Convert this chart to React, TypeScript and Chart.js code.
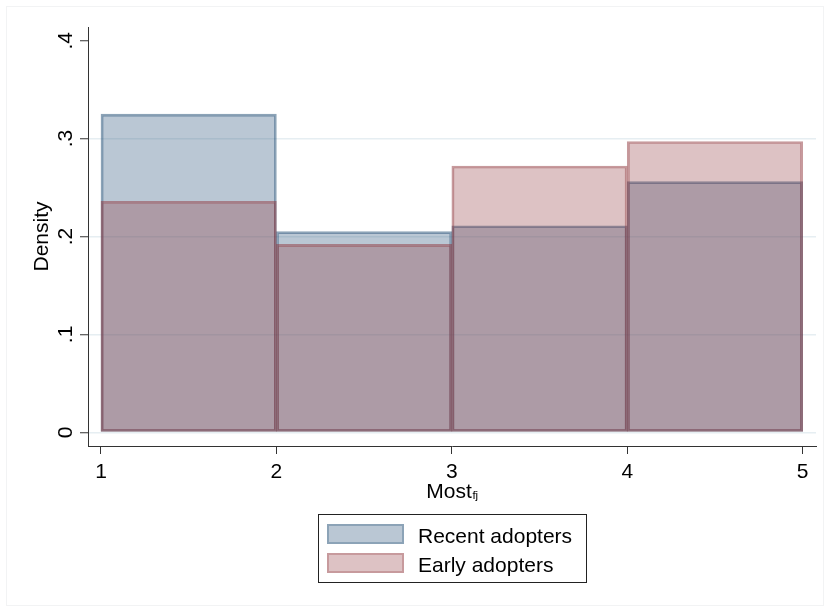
import React, { useEffect, useRef } from 'react';
import { Chart, registerables } from 'chart.js';

Chart.register(...registerables);

// ---- data ----
const BIN_CENTERS = [1.5, 2.5, 3.5, 4.5];
const RECENT = [0.325, 0.205, 0.211, 0.256];
const EARLY = [0.236, 0.192, 0.272, 0.297];
const X_TICKS = [1, 2, 3, 4, 5];
const Y_TICKS = [0, 0.1, 0.2, 0.3, 0.4];
const Y_TICK_LABELS = ['0', '.1', '.2', '.3', '.4'];
const SERIES_NAMES = ['Recent adopters', 'Early adopters'];
const X_TITLE = 'Most';
const X_TITLE_SUB = 'fj';
const Y_TITLE = 'Density';

const FONT = '"Liberation Sans", Arial, Helvetica, sans-serif';
const NAVY = '26,71,111';
const MAROON = '144,53,59';

const labelsPlugin = {
  id: 'stataLabels',
  afterDraw(chart: any) {
    const ctx = chart.ctx as CanvasRenderingContext2D;
    const xs = chart.scales.x;
    const ys = chart.scales.y;
    ctx.save();
    ctx.fillStyle = '#000';
    ctx.font = `21px ${FONT}`;
    ctx.textAlign = 'center';
    ctx.textBaseline = 'alphabetic';
    // x tick labels
    xs.ticks.forEach((t: any) => {
      ctx.fillText(String(t.value), xs.getPixelForValue(t.value), xs.top + 32);
    });
    // y tick labels (rotated)
    ys.ticks.forEach((t: any) => {
      const idx = Y_TICKS.indexOf(t.value);
      const lbl = idx >= 0 ? Y_TICK_LABELS[idx] : String(t.value);
      ctx.save();
      ctx.translate(ys.right - 16, ys.getPixelForValue(t.value));
      ctx.rotate(-Math.PI / 2);
      ctx.fillText(lbl, 0, 0);
      ctx.restore();
    });
    // y title
    ctx.save();
    ctx.translate(48, (ys.top + ys.bottom) / 2);
    ctx.rotate(-Math.PI / 2);
    ctx.fillText(Y_TITLE, 0, 0);
    ctx.restore();
    // x title with subscript
    ctx.font = `21px ${FONT}`;
    const wMain = ctx.measureText(X_TITLE).width;
    ctx.font = `11.5px ${FONT}`;
    const wSub = ctx.measureText(X_TITLE_SUB).width;
    const cx = (xs.left + xs.right) / 2;
    const start = cx - (wMain + wSub) / 2;
    ctx.textAlign = 'left';
    ctx.font = `21px ${FONT}`;
    ctx.fillText(X_TITLE, start, xs.top + 52);
    ctx.font = `11.5px ${FONT}`;
    ctx.fillText(X_TITLE_SUB, start + wMain + 0.5, xs.top + 53);
    ctx.restore();
  },
};

export default function App() {
  const ref = useRef<HTMLCanvasElement | null>(null);

  useEffect(() => {
    if (!ref.current) return;
    const chart = new Chart(ref.current, {
      type: 'bar',
      data: {
        datasets: [
          {
            label: SERIES_NAMES[0],
            data: BIN_CENTERS.map((x, i) => ({ x, y: RECENT[i] })),
            backgroundColor: `rgba(${NAVY},0.3)`,
            borderColor: `rgba(${NAVY},0.5)`,
            borderWidth: 2,
            borderSkipped: false,
            order: 2,
          },
          {
            label: SERIES_NAMES[1],
            data: BIN_CENTERS.map((x, i) => ({ x, y: EARLY[i] })),
            backgroundColor: `rgba(${MAROON},0.3)`,
            borderColor: `rgba(${MAROON},0.5)`,
            borderWidth: 2,
            borderSkipped: false,
            order: 1,
          },
        ],
      },
      options: {
        animation: false,
        responsive: false,
        devicePixelRatio: 1,
        grouped: false,
        barPercentage: 1,
        categoryPercentage: 1,
        layout: { padding: { left: 0, right: 15, top: 27, bottom: 0 } },
        plugins: { legend: { display: false }, tooltip: { enabled: false } },
        scales: {
          x: {
            type: 'linear',
            min: 0.926,
            max: 5.076,
            offset: false,
            afterBuildTicks: (s: any) => {
              s.ticks = X_TICKS.map((v) => ({ value: v }));
            },
            afterFit: (s: any) => {
              s.height = 161;
            },
            ticks: { display: false },
            grid: {
              offset: false,
              drawOnChartArea: false,
              drawTicks: true,
              tickLength: 8,
              tickColor: '#333',
              tickWidth: 1,
            },
            border: { display: true, color: '#333', width: 1 },
          },
          y: {
            type: 'linear',
            min: -0.014,
            max: 0.414,
            z: 1,
            afterBuildTicks: (s: any) => {
              s.ticks = Y_TICKS.map((v) => ({ value: v }));
            },
            afterFit: (s: any) => {
              s.width = 88;
            },
            ticks: { display: false },
            grid: {
              drawOnChartArea: true,
              drawTicks: true,
              tickLength: 8,
              tickColor: '#333',
              tickWidth: 1,
              lineWidth: 1.5,
              color: (c: any) =>
                c.tick && c.tick.value >= 0.4 ? 'rgba(0,0,0,0)' : 'rgba(214,226,233,0.6)',
            },
            border: { display: true, color: '#333', width: 1 },
          },
        },
      } as any,
      plugins: [labelsPlugin],
    });
    return () => chart.destroy();
  }, []);

  const swatch = (rgb: string, top: number): React.CSSProperties => ({
    position: 'absolute',
    left: 327,
    top,
    width: 77,
    height: 20,
    boxSizing: 'border-box',
    background: `rgba(${rgb},0.3)`,
    backgroundClip: 'padding-box',
    border: `2px solid rgba(${rgb},0.5)`,
  });
  const text = (top: number): React.CSSProperties => ({
    position: 'absolute',
    left: 418,
    top,
    height: 20,
    lineHeight: '20px',
    fontSize: 21,
    fontFamily: FONT,
    color: '#000',
    whiteSpace: 'nowrap',
  });

  return (
    <div
      style={{
        position: 'fixed',
        left: 0,
        top: 0,
        width: 831,
        height: 607,
        background: '#fff',
        overflow: 'hidden',
      }}
    >
      <div
        style={{
          position: 'absolute',
          left: 6,
          top: 6,
          width: 818,
          height: 600,
          border: '1px solid #f2f3f4',
          boxSizing: 'border-box',
        }}
      />
      <canvas ref={ref} width={831} height={607} style={{ position: 'absolute', left: 0, top: 0, width: 831, height: 607 }} />
      <div
        style={{
          position: 'absolute',
          left: 318,
          top: 514,
          width: 269,
          height: 69,
          boxSizing: 'border-box',
          border: '1px solid #222',
        }}
      />
      <div style={swatch(NAVY, 524)} />
      <div style={text(526)}>{SERIES_NAMES[0]}</div>
      <div style={swatch(MAROON, 553)} />
      <div style={text(555)}>{SERIES_NAMES[1]}</div>
    </div>
  );
}
